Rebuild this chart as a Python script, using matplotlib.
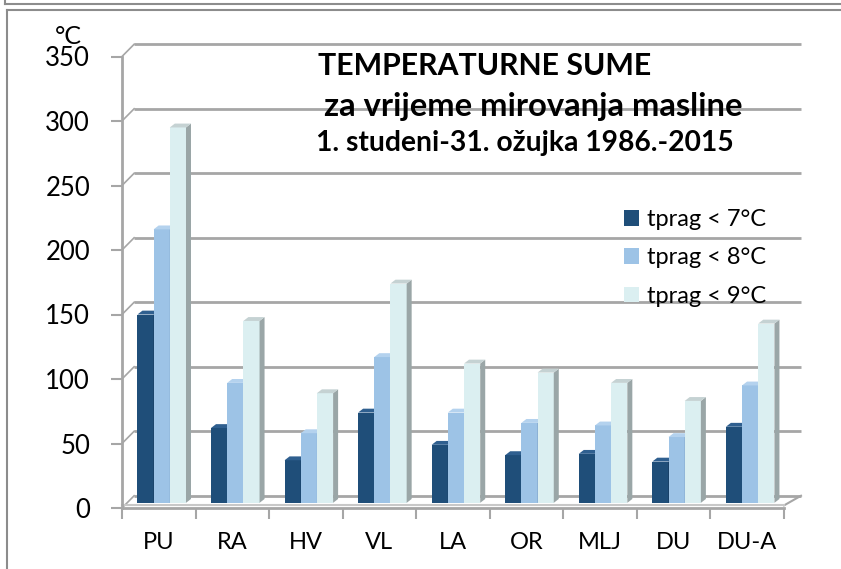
import numpy as np
import matplotlib
matplotlib.use('Agg')
import matplotlib.pyplot as plt
from matplotlib.patches import Polygon, Patch
from matplotlib.lines import Line2D

plt.rcParams['font.family'] = ['Lato', 'DejaVu Sans']

stations = ['PU', 'RA', 'HV', 'VL', 'LA', 'OR', 'MLJ', 'DU', 'DU-A']
t7 = [146, 58, 33, 70, 45, 37, 38, 32, 59]
t8 = [212, 93, 54, 113, 70, 62, 60, 51, 91]
t9 = [291, 141, 85, 170, 108, 101, 93, 79, 139]
series_labels = ['tprag < 7°C', 'tprag < 8°C', 'tprag < 9°C']
y_ticks = [0, 50, 100, 150, 200, 250, 300, 350]

front = ['#1f4e79', '#9dc3e6', '#dbeff1']
side = ['#153659', '#7699bd', '#9aa6a7']
top = ['#2f5f8f', '#b4d2ee', '#c5d2d3']

W, H = 841, 569
fig = plt.figure(figsize=(W / 100, H / 100), dpi=100)

# axes placed in pixel terms: x -0.5..8.5 -> 122..784, y 0 -> 508, 1.29 px per unit
ymax = 365
ax = fig.add_axes([122 / W, (H - 508) / H, 662 / W, (ymax * 1.29) / H])
ax.set_xlim(-0.5, 8.5)
ax.set_ylim(0, ymax)
for s in ax.spines.values():
    s.set_visible(False)

# depth offsets
dxw, dyw = 0.165, 9.5      # back wall
dxb, dyb = 0.068, 3.0      # bar depth
base = 4.0                 # bars sit a bit back on the floor
grid_c = '#a6a6a6'

# back wall grid + left wall connectors
for v in y_ticks:
    ax.plot([-0.5 + dxw, 8.5 + dxw * 1.4], [v + dyw, v + dyw], color=grid_c,
            lw=2, clip_on=False, zorder=1, solid_capstyle='butt')
    ax.plot([-0.5, -0.5 + dxw], [v, v + dyw], color=grid_c, lw=1.2,
            clip_on=False, zorder=1)
# floor
ax.plot([8.5, 8.5 + dxw * 1.4], [base - 2, dyw], color=grid_c, lw=1.5,
        clip_on=False, zorder=1)
ax.plot([-0.5, 8.5], [base - 2, base - 2], color='#c8c8c8', lw=1.5,
        clip_on=False, zorder=1)
# front axes lines
ax.plot([-0.5, -0.5], [0, 350], color=grid_c, lw=2, clip_on=False, zorder=2)
ax.plot([-0.5, 8.5], [0, 0], color=grid_c, lw=2, clip_on=False, zorder=2)

x = np.arange(len(stations))
w = 0.22
offs = [-w + 0.04, 0.04, w + 0.04]
for k, vals in enumerate([t7, t8, t9]):
    xs = x + offs[k]
    ax.bar(xs, vals, width=w, bottom=base, color=front[k], zorder=3 + k * 2,
           linewidth=0)
    for xi, v in zip(xs, vals):
        r = xi + w / 2
        l = xi - w / 2
        yt = base + v
        ax.add_patch(Polygon([(r, base), (r + dxb, base + dyb), (r + dxb, yt + dyb), (r, yt)],
                             closed=True, facecolor=side[k], edgecolor='none',
                             zorder=3 + k * 2 + 1, clip_on=False))
        ax.add_patch(Polygon([(l, yt), (l + dxb, yt + dyb), (r + dxb, yt + dyb), (r, yt)],
                             closed=True, facecolor=top[k], edgecolor='none',
                             zorder=3 + k * 2 + 1, clip_on=False))

ax.set_yticks(y_ticks)
ax.set_yticklabels([str(v) for v in y_ticks], fontsize=18.5)
ax.tick_params(axis='y', length=8, color=grid_c, width=1.5, pad=15)
ax.set_xticks(np.arange(-0.5, 9, 1.0))
ax.set_xticklabels([])
ax.tick_params(axis='x', which='major', length=8, color=grid_c, width=1.5, direction='out')
ax.set_xticks(x, minor=True)
ax.set_xticklabels(stations, minor=True, fontsize=17)
ax.tick_params(axis='x', which='minor', length=0, pad=17)

fig.text(55 / W, 1 - 37 / H, '°C', fontsize=18, va='center', ha='left')

# titles
fig.text(318 / W, 1 - 75 / H, 'TEMPERATURNE SUME', fontsize=21.8, fontweight='bold',
         va='baseline', ha='left')
fig.text(324 / W, 1 - 116 / H, 'za vrijeme mirovanja masline', fontsize=23.6,
         fontweight='bold', va='baseline', ha='left')
fig.text(316 / W, 1 - 151 / H, '1. studeni-31. ožujka 1986.-2015', fontsize=20.3,
         fontweight='bold', va='baseline', ha='left')

handles = [Patch(facecolor=front[k], edgecolor='none') for k in range(3)]
fig.legend(handles, series_labels, loc='upper left',
           bbox_to_anchor=(624 / W, 1 - 209 / H), frameon=False, fontsize=17,
           handlelength=0.64, handleheight=0.64, handletextpad=0.34,
           labelspacing=0.74, borderpad=0, borderaxespad=0)

# outer frames
fc = '#8c8c8c'
fig.add_artist(Line2D([5 / W, 1], [1 - 4 / H, 1 - 4 / H], color=fc, lw=1.5))
fig.add_artist(Line2D([5 / W, 5 / W], [1, 1 - 4 / H], color=fc, lw=1.5))
fig.add_artist(Line2D([7 / W, 1], [1 - 10 / H, 1 - 10 / H], color=fc, lw=1.5))
fig.add_artist(Line2D([7 / W, 7 / W], [0, 1 - 10 / H], color=fc, lw=1.5))

fig.savefig('out.png', dpi=100)
